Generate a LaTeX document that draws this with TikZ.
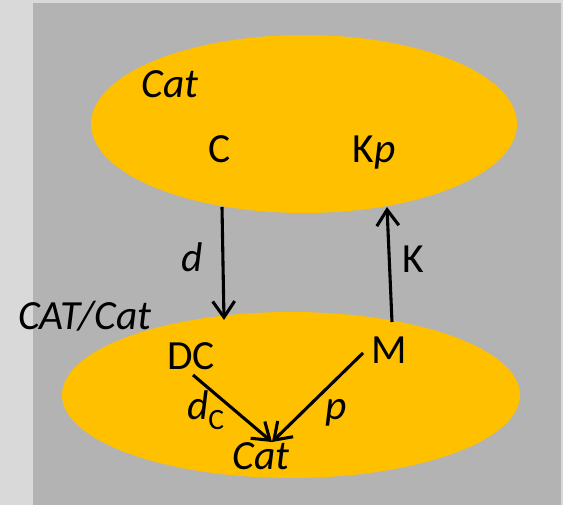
\documentclass[tikz,border=0pt]{standalone}
\usepackage{fontspec}
\setmainfont{Carlito}
\usetikzlibrary{arrows.meta,shapes.geometric}
\definecolor{backdrop}{HTML}{D9D9D9}
\definecolor{slate}{HTML}{B3B3B3}
\definecolor{amber}{HTML}{FFC000}

\begin{document}
\begin{tikzpicture}[
  blob/.style={ellipse, fill=amber, inner sep=0pt},
  obj/.style={anchor=base, inner sep=0pt, font=\fontsize{29.5}{35}\selectfont},
  arrow/.style={-{Straight Barb[length=4mm, width=5.5mm]}, line width=2.2pt}
]
  \fill[backdrop] (0,0) rectangle (14.075,12.625);
  \fill[slate] (0.825,0) rectangle (14.025,12.55);
  \node[blob, minimum width=10.65cm, minimum height=4.45cm] (upper) at (7.6,9.525) {};
  \node[blob, minimum width=11.45cm, minimum height=4.15cm] (lower) at (7.275,2.75) {};
  % top category
  \node[obj] (catTop) at (4.25,10.175) {\textit{Cat}};
  \node[obj] (objC) at (5.5,8.55) {C};
  \node[obj] (objKp) at (9.35,8.55) {K\textit{p}};
  % between
  \node[obj] (lblD) at (4.8,5.825) {\textit{d}};
  \node[obj] (lblK) at (10.325,5.8) {K};
  \node[obj] (catSlash) at (2.125,4.375) {\textit{CAT/Cat}};
  % slice category
  \node[obj] (objDC) at (4.775,3.375) {DC};
  \node[obj] (objM) at (9.725,3.525) {M};
  \node[obj] (lblDC) at (5.14,2.125) {\textit{d}\raisebox{-7pt}{\fontsize{21}{25}\selectfont C}};
  \node[obj] (lblP) at (8.4,2.125) {\textit{p}};
  \node[obj] (catBot) at (6.525,0.875) {\textit{Cat}};
  \coordinate (dFrom) at (5.55,7.45);
  \coordinate (dTo) at (5.6,4.625);
  \coordinate (kFrom) at (9.8,4.575);
  \coordinate (kTo) at (9.675,7.45);
  \coordinate (dcFrom) at (4.825,3.25);
  \coordinate (pFrom) at (9.075,3.8);
  \coordinate (meet) at (6.8,1.575);
  \draw[arrow] (dFrom) -- (dTo);
  \draw[arrow] (kFrom) -- (kTo);
  \draw[arrow] (dcFrom) -- (meet);
  \draw[arrow] (pFrom) -- (meet);
\end{tikzpicture}
\end{document}
